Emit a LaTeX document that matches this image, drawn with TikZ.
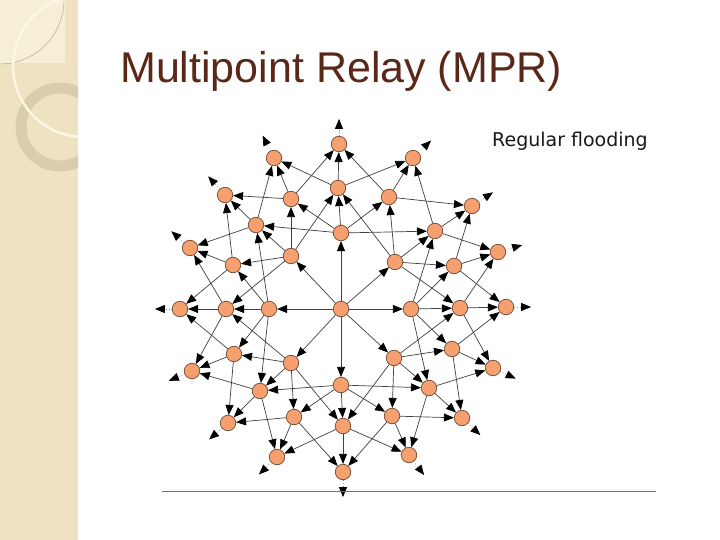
\documentclass[tikz,border=0pt]{standalone}
\usepackage{fontspec}
\setmainfont{Liberation Sans}
\newfontfamily\captionfont{DejaVu Sans}
\usetikzlibrary{arrows.meta, calc}
\definecolor{relayorange}{RGB}{246,160,112}
\definecolor{relayrim}{RGB}{110,75,55}
\definecolor{titlebrown}{RGB}{90,40,25}
\definecolor{stripbeige}{RGB}{238,226,193}
\definecolor{stripcream}{RGB}{252,247,228}
\definecolor{stripring}{RGB}{218,205,172}

\begin{document}
\begin{tikzpicture}[x=1pt, y=-1pt,
  relay/.style={circle, draw=relayrim, line width=0.7pt, fill=relayorange, minimum size=15.5pt, inner sep=0pt},
  flow/.style={draw=black!75, line width=0.7pt, -{Triangle[length=10pt, width=8pt, color=black]}},
  outflow/.style={draw=black!45, dotted, line width=0.7pt, -{Triangle[length=10pt, width=8pt, color=black]}}
]
  \useasboundingbox (0,0) rectangle (720,540);
  \fill[white] (0,0) rectangle (720,540);

  % left strip of the slide
  \fill[stripbeige] (0,0) rectangle (78,540);
  \fill[stripcream!60!stripbeige] (0,0) rectangle (65,63);
  \begin{scope}
    \clip (0,0) rectangle (78,540);
    \draw[stripbeige!70!black, line width=0.4pt] (0,64) arc[start angle=-90, end angle=0, radius=64pt];
    \draw[stripring, line width=11pt] (60,127) circle[radius=39pt];
    \draw[stripcream, line width=2.5pt] (84,66) circle[radius=71pt];
  \end{scope}

  \node[anchor=base west, inner sep=0pt, text=titlebrown, font=\fontsize{43}{50}\selectfont] (title) at (120,83) {Multipoint Relay (MPR)};
  \node[anchor=base west, inner sep=0pt, text=black!90, font=\captionfont\fontsize{19}{22}\selectfont] (caption) at (492,147) {Regular flooding};

  % source and first ring
  \node[relay] (src) at (341,309) {};
  \foreach \name/\x/\y in {n/341/233, ne/395/262, e/411/309, se/394/358, s/341/385, sw/291/363, w/269/309, nw/291/256}
    \node[relay] (\name) at (\x,\y) {};
  % second ring
  \foreach \name/\x/\y in {m1/338/188, m2/389/197, m3/435/231, m4/454/266, m5/460/308, m6/452/349, m7/429/388, m8/392/416,
      m9/343/426, m10/294/417, m11/260/391, m12/234/354, m13/226/309, m14/233/265, m15/256/225, m16/291/199}
    \node[relay] (\name) at (\x,\y) {};
  % outer ring
  \foreach \name/\x/\y in {o1/339/144, o2/413/158, o3/472/206, o4/498/252, o5/506/307, o6/493/368, o7/462/418, o8/409/455,
      o9/343/472, o10/277/457, o11/228/423, o12/192/371, o13/180/309, o14/190/248, o15/225/195, o16/274/158}
    \node[relay] (\name) at (\x,\y) {};

  \foreach \to in {n, ne, e, se, s, sw, w, nw}
    \draw[flow] (src) -- (\to);

  \foreach \from/\to in {n/m1, n/m2, n/m3, n/m15, n/m16, nw/m1, nw/m16, nw/m15, nw/m14, nw/m13,
      ne/m1, ne/m2, ne/m3, ne/m4, ne/m5, w/m15, w/m14, w/m13, w/m12, w/m11,
      e/m3, e/m4, e/m5, e/m6, e/m7, sw/m13, sw/m12, sw/m11, sw/m10, sw/m9,
      se/m5, se/m6, se/m7, se/m8, se/m9, s/m11, s/m10, s/m9, s/m8, s/m7}
    \draw[flow] (\from) -- (\to);

  \foreach \k in {1,...,16} {
    \pgfmathtruncatemacro\prev{mod(\k+14,16)+1}
    \pgfmathtruncatemacro\next{mod(\k,16)+1}
    \foreach \j in {\prev, \k, \next}
      \draw[flow] (m\k) -- (o\j);
  }

  % copies leaving the picture
  \foreach \o/\ang in {o1/90, o2/44, o3/33, o4/16, o5/0, o6/335, o7/317, o8/307,
      o9/270, o10/224, o11/221, o12/203, o13/180, o14/138, o15/132, o16/117}
    \draw[outflow] (\o.\ang) -- ++(\ang:17pt);

  \draw[black!55, line width=1pt] (162,491) -- (656,491);
\end{tikzpicture}
\end{document}
